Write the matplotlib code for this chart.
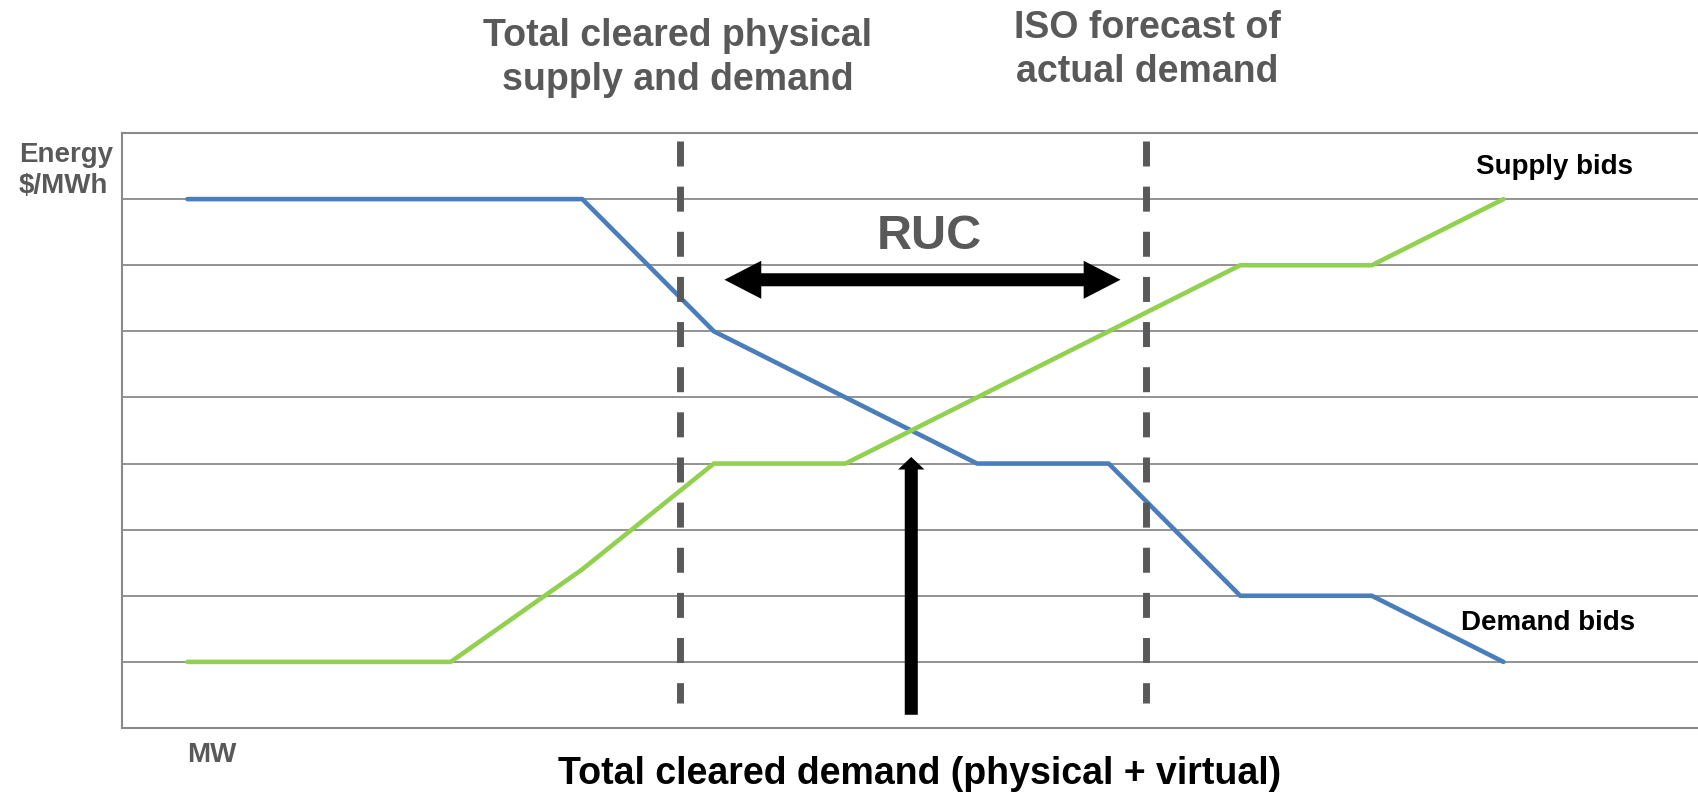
import matplotlib.pyplot as plt

plt.rcParams['font.family'] = ['Liberation Sans', 'DejaVu Sans']

# bid curves (x in MW steps, y in price steps)
demand_x = [0, 3, 4, 6, 7, 8, 9, 10]
demand_y = [8, 8, 6, 4, 4, 2, 2, 1]
supply_x = [0, 2, 3, 4, 5, 8, 9, 10]
supply_y = [1, 1, 2.4, 4, 4, 7, 7, 8]

# dashed markers: cleared physical / ISO forecast
cleared_x = 3.74
forecast_x = 7.28
dash_top, dash_bottom = 8.88, 0.38

# RUC arrow span and cleared demand arrow
ruc_x = [4.08, 7.09]
ruc_y = 6.78
cleared_demand_x = 5.5
cleared_demand_y = [0.2, 4.1]

gray = '#595959'
grid_gray = '#8a8a8a'

fig = plt.figure(figsize=(16.99, 7.93), dpi=100)
ax = fig.add_axes([122.5 / 1699, 65 / 793, 1 - 122.5 / 1699, 595 / 793])
ax.set_xlim(-0.494, 11.486)
ax.set_ylim(0, 9)

ax.set_yticks(range(1, 9))
ax.set_xticks([])
ax.yaxis.grid(True, color=grid_gray, lw=1.3)
ax.tick_params(length=0, labelleft=False)
ax.set_axisbelow(True)
for s in ['left', 'bottom', 'top']:
    ax.spines[s].set_color(grid_gray)
    ax.spines[s].set_linewidth(1.5)
ax.spines['right'].set_visible(False)

ax.plot(demand_x, demand_y, color='#4a7ebb', lw=3.3, solid_capstyle='round', zorder=3)
ax.plot(supply_x, supply_y, color='#92d050', lw=3.3, solid_capstyle='round', zorder=3)

for xv in [cleared_x, forecast_x]:
    ax.plot([xv, xv], [dash_top, dash_bottom], color=gray, lw=5,
            dashes=(3.6, 2.9), dash_capstyle='butt', zorder=4)

# RUC double-headed arrow as one filled shape
hl, hw, sw = 0.28, 0.2875, 0.0985
x0, x1 = ruc_x
ax.fill([x0, x0 + hl, x0 + hl, x1 - hl, x1 - hl, x1, x1 - hl, x1 - hl, x0 + hl, x0 + hl],
        [ruc_y, ruc_y + hw, ruc_y + sw, ruc_y + sw, ruc_y + hw, ruc_y,
         ruc_y - hw, ruc_y - sw, ruc_y - sw, ruc_y - hw],
        color='black', lw=0, zorder=5)
ax.text(5.64, 7.44, 'RUC', fontsize=35, fontweight='bold', color=gray,
        ha='center', va='center')

ax.arrow(cleared_demand_x, cleared_demand_y[0], 0,
         cleared_demand_y[1] - cleared_demand_y[0], width=0.099,
         head_width=0.2, head_length=0.19, length_includes_head=True,
         color='black', lw=0, zorder=5)

fig.text(678 / 1699, 1 - 58 / 793, 'Total cleared physical\nsupply and demand',
         fontsize=27, fontweight='bold', color=gray, ha='center', va='center',
         linespacing=1.25)
fig.text(1147 / 1699, 1 - 50 / 793, 'ISO forecast of\nactual demand',
         fontsize=27, fontweight='bold', color=gray, ha='center', va='center',
         linespacing=1.25)
fig.text(19 / 1699, 1 - 170 / 793, 'Energy\n$/MWh', fontsize=20,
         fontweight='bold', color=gray, ha='left', va='center', linespacing=1.25)
fig.text(1555 / 1699, 1 - 174 / 793, 'Supply bids', fontsize=20,
         fontweight='bold', color='black', ha='center', va='baseline')
fig.text(1548 / 1699, 1 - 630 / 793, 'Demand bids', fontsize=20,
         fontweight='bold', color='black', ha='center', va='baseline')
fig.text(187 / 1699, 1 - 762 / 793, 'MW', fontsize=20,
         fontweight='bold', color=gray, ha='left', va='baseline')
fig.text(920 / 1699, 1 - 784 / 793, 'Total cleared demand (physical + virtual)',
         fontsize=27, fontweight='bold', color='black', ha='center', va='baseline')

fig.savefig('out.png', dpi=100)
